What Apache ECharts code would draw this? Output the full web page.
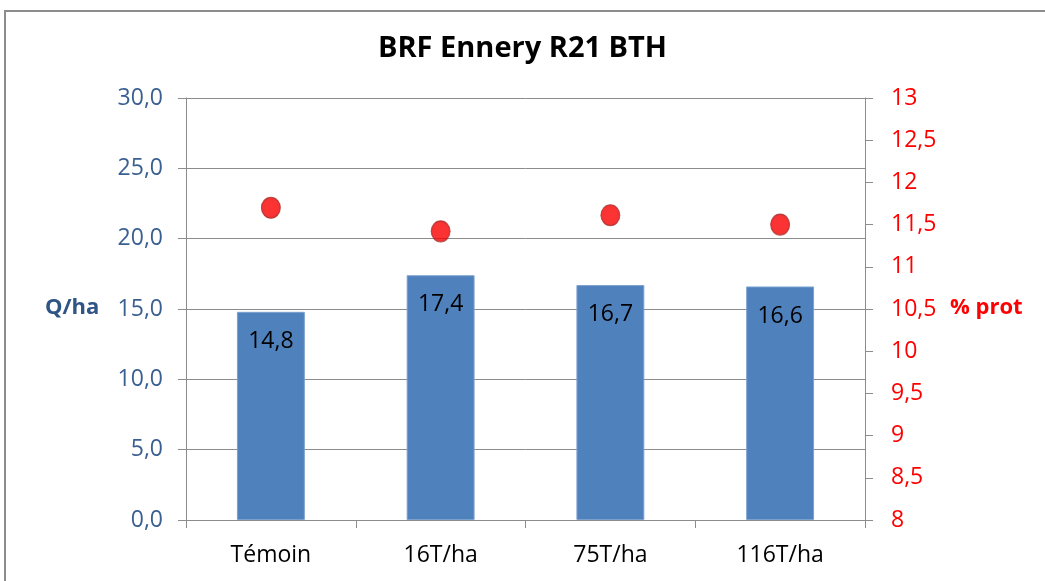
<!DOCTYPE html>
<html>
<head>
<meta charset="utf-8">
<script src="https://cdn.jsdelivr.net/npm/echarts@6/dist/echarts.min.js"></script>
<style>html,body{margin:0;padding:0;background:#fff}#c{width:1045px;height:581px}</style>
</head>
<body>
<div id="c"></div>
<script>
const categories = ['Témoin', '16T/ha', '75T/ha', '116T/ha'];
const yieldValues = [14.8, 17.4, 16.7, 16.6];
const protValues = [11.7, 11.42, 11.61, 11.5];
const titleText = 'BRF Ennery R21 BTH';
const leftName = 'Q/ha';
const rightName = '% prot';

const FONT = '"Open Sans", sans-serif';
const chart = echarts.init(document.getElementById('c'));
chart.setOption({
  animation: false,
  backgroundColor: '#fff',
  title: {
    text: titleText, left: 'center', top: 29,
    textStyle: { fontFamily: FONT, fontSize: 29, fontWeight: 'bold', color: '#000' }
  },
  graphic: [
    { type: 'rect', shape: { x: 5, y: 11, width: 1060, height: 600 }, style: { fill: 'none', stroke: '#8c8c8c', lineWidth: 2 }, silent: true },
    { type: 'text', left: 45, top: 297, style: { text: leftName, fontFamily: FONT, fontSize: 22, fontWeight: 'bold', fill: '#2f5486' } },
    { type: 'text', left: 950, top: 297, style: { text: rightName, fontFamily: FONT, fontSize: 22, fontWeight: 'bold', fill: '#ff0000' } }
  ],
  grid: { left: 186, right: 180, top: 98, bottom: 61 },
  xAxis: {
    type: 'category', data: categories,
    axisLine: { lineStyle: { color: '#8c8c8c', width: 1 } },
    axisTick: { show: true, length: 8, lineStyle: { color: '#8c8c8c' } },
    axisLabel: { fontFamily: FONT, fontSize: 23, color: '#000', margin: 24 }
  },
  yAxis: [
    {
      type: 'value', min: 0, max: 30, interval: 5, position: 'left',
      axisLine: { show: true, lineStyle: { color: '#8c8c8c' } },
      axisTick: { show: true, length: 8, lineStyle: { color: '#8c8c8c' } },
      splitLine: { show: true, lineStyle: { color: '#8c8c8c', width: 1 } },
      axisLabel: { fontFamily: FONT, fontSize: 23, color: '#3a5f91', margin: 23,
        formatter: v => v.toFixed(1).replace('.', ',') }
    },
    {
      type: 'value', min: 8, max: 13, interval: 0.5, position: 'right',
      axisLine: { show: true, lineStyle: { color: '#8c8c8c' } },
      axisTick: { show: true, length: 8, lineStyle: { color: '#8c8c8c' } },
      splitLine: { show: false },
      axisLabel: { fontFamily: FONT, fontSize: 23, color: '#ff0000', margin: 26,
        formatter: v => String(v).replace('.', ',') }
    }
  ],
  series: [
    {
      type: 'bar', data: yieldValues, yAxisIndex: 0, barWidth: '40%',
      itemStyle: { color: '#4f81bd', borderColor: '#7aa0d0', borderWidth: 1 },
      label: { show: true, position: 'insideTop', distance: 18, fontFamily: FONT, fontSize: 23, color: '#000',
        formatter: p => p.value.toFixed(1).replace('.', ',') }
    },
    {
      type: 'scatter', data: protValues, yAxisIndex: 1, symbol: 'circle', symbolSize: [19, 21],
      itemStyle: {
        color: { type: 'radial', x: 0.5, y: 0.5, r: 0.5, colorStops: [
          { offset: 0, color: '#ff0000' }, { offset: 0.8, color: '#f50000' }, { offset: 1, color: '#c00000' } ] },
        borderColor: '#b03030', borderWidth: 1
      }
    }
  ]
});
</script>
</body>
</html>
